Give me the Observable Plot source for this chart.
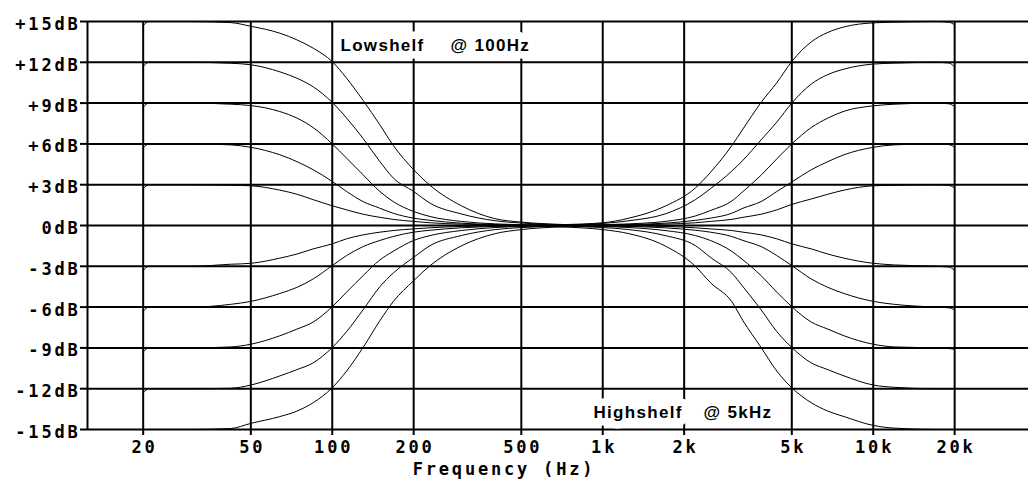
<!DOCTYPE html>
<html>
<head>
<meta charset="utf-8">
<script src="https://cdn.jsdelivr.net/npm/d3@7"></script>
<script src="https://cdn.jsdelivr.net/npm/@observablehq/plot@0.6"></script>
<style>
  body { margin: 0; background: #fff; }
</style>
</head>
<body>
<div id="chart"></div>
<script>
// ---- tick labels ----
const xTicks = [20, 50, 100, 200, 500, 1000, 2000, 5000, 10000, 20000];
const xTickLabels = ["20", "50", "100", "200", "500", "1k", "2k", "5k", "10k", "20k"];
const yTicks = [-15, -12, -9, -6, -3, 0, 3, 6, 9, 12, 15];
const yTickLabels = ["-15dB", "-12dB", "-9dB", "-6dB", "-3dB", "0dB", "+3dB", "+6dB", "+9dB", "+12dB", "+15dB"];
const annotationTexts = ["Lowshelf", "@ 100Hz", "Highshelf", "@ 5kHz"];

// ---- low shelf @ 100 Hz (dB values) ----
const lowFreqs = [20, 21, 30, 42, 50, 64, 74, 85, 100, 113, 130, 150, 168, 200, 230, 300, 400, 500, 700, 1000, 20000];
const lowP15 = [14.7, 15, 15, 14.92, 14.65, 14.14, 13.65, 13.04, 12.05, 10.83, 9.2, 7.4, 5.9, 4.1, 2.95, 1.45, 0.5, 0.25, 0.08, 0, 0];
const lowP12 = [11.7, 12, 12, 11.93, 11.82, 11.3, 10.83, 10.2, 9.05, 7.9, 6.4, 4.7, 3.5, 2.5, 1.64, 0.85, 0.35, 0.18, 0.05, 0, 0];
const lowP9  = [8.7, 9, 9, 8.92, 8.82, 8.38, 7.9, 7.2, 6.0, 4.95, 3.73, 2.5, 1.76, 1.03, 0.66, 0.3, 0.12, 0.06, 0.02, 0, 0];
const lowP6  = [5.7, 6, 6, 5.93, 5.75, 5.2, 4.7, 4.1, 3.24, 2.5, 1.76, 1.27, 0.9, 0.54, 0.38, 0.17, 0.07, 0.03, 0.01, 0, 0];
const lowP3  = [2.7, 3, 3, 2.96, 2.92, 2.6, 2.3, 1.9, 1.45, 1.15, 0.83, 0.6, 0.45, 0.3, 0.2, 0.1, 0.04, 0.02, 0, 0, 0];
const lowM3  = [-3.3, -3, -3, -2.85, -2.78, -2.4, -2.1, -1.72, -1.35, -0.98, -0.69, -0.49, -0.37, -0.25, -0.17, -0.07, -0.03, -0.01, 0, 0, 0];
const lowM6  = [-6.3, -6, -6, -5.8, -5.58, -5.0, -4.55, -3.93, -2.95, -2.21, -1.55, -1.1, -0.81, -0.49, -0.35, -0.17, -0.07, -0.03, -0.01, 0, 0];
const lowM9  = [-9.3, -9, -9, -8.93, -8.73, -8.11, -7.62, -7.1, -5.97, -4.9, -3.69, -2.53, -1.9, -1.1, -0.74, -0.37, -0.15, -0.07, -0.02, 0, 0];
const lowM12 = [-12.3, -12, -12, -11.97, -11.73, -11.06, -10.6, -10.1, -8.97, -7.8, -6.2, -4.5, -3.5, -2.34, -1.48, -0.74, -0.3, -0.15, -0.05, 0, 0];
const lowM15 = [-15.3, -15, -15, -14.93, -14.55, -14.05, -13.65, -13.03, -11.93, -10.7, -8.97, -7.0, -5.6, -4.06, -2.95, -1.5, -0.6, -0.3, -0.1, 0, 0];

// ---- high shelf @ 5 kHz (dB values) ----
const highFreqs = [20, 500, 700, 1000, 1250, 1700, 2200, 2500, 3000, 3300, 3850, 4400, 5000, 5900, 6800, 7800, 10000, 12000, 17000, 19000, 20000];
const highP15 = [0, 0, 0.06, 0.2, 0.54, 1.42, 2.76, 3.9, 5.87, 7.1, 9.05, 10.5, 12.06, 13.5, 14.2, 14.6, 14.9, 14.95, 15, 14.95, 14.75];
const highP12 = [0, 0, 0.04, 0.15, 0.35, 0.85, 1.9, 2.7, 4.0, 4.8, 6.3, 7.6, 9.0, 10.4, 11.1, 11.5, 11.87, 11.94, 12, 11.95, 11.65];
const highP9  = [0, 0, 0.02, 0.06, 0.12, 0.3, 0.7, 1.1, 1.8, 2.5, 3.7, 4.9, 6.0, 7.2, 7.9, 8.4, 8.8, 8.92, 9, 8.95, 8.75];
const highP6  = [0, 0, 0.01, 0.03, 0.07, 0.17, 0.38, 0.54, 0.9, 1.27, 1.76, 2.5, 3.2, 4.1, 4.7, 5.2, 5.75, 5.93, 6, 5.95, 5.75];
const highP3  = [0, 0, 0, 0.02, 0.04, 0.1, 0.2, 0.3, 0.45, 0.6, 0.83, 1.15, 1.55, 1.95, 2.3, 2.6, 2.92, 2.96, 3, 2.95, 2.75];
const highM3  = [0, 0, 0, -0.01, -0.03, -0.07, -0.17, -0.25, -0.37, -0.49, -0.69, -0.98, -1.35, -1.72, -2.1, -2.4, -2.78, -2.9, -3, -3.05, -3.3];
const highM6  = [0, 0, -0.01, -0.03, -0.07, -0.17, -0.35, -0.49, -0.81, -1.1, -1.55, -2.21, -2.95, -3.93, -4.55, -5.0, -5.58, -5.8, -6, -6.05, -6.2];
const highM9  = [0, 0, -0.02, -0.07, -0.15, -0.37, -0.74, -1.1, -1.9, -2.53, -3.69, -4.9, -5.97, -7.1, -7.62, -8.11, -8.73, -8.93, -9, -9.05, -9.1];
const highM12 = [0, 0, -0.05, -0.15, -0.3, -0.74, -1.48, -2.34, -3.5, -4.5, -6.2, -7.8, -8.97, -10.1, -10.6, -11.06, -11.73, -11.9, -12, -12, -12];
const highM15 = [0, 0, -0.1, -0.3, -0.6, -1.5, -3.0, -4.2, -5.6, -7.0, -8.97, -10.7, -11.93, -13.03, -13.65, -14.05, -14.7, -14.9, -15, -15, -15];

const xDomain = [12.45, 37500];
const yDomain = [-15, 15];

// ---- build a table for Plot ----
const curves = [
  ["low+15", lowFreqs, lowP15], ["low+12", lowFreqs, lowP12], ["low+9", lowFreqs, lowP9],
  ["low+6", lowFreqs, lowP6], ["low+3", lowFreqs, lowP3], ["low-3", lowFreqs, lowM3],
  ["low-6", lowFreqs, lowM6], ["low-9", lowFreqs, lowM9], ["low-12", lowFreqs, lowM12],
  ["low-15", lowFreqs, lowM15],
  ["high+15", highFreqs, highP15], ["high+12", highFreqs, highP12], ["high+9", highFreqs, highP9],
  ["high+6", highFreqs, highP6], ["high+3", highFreqs, highP3], ["high-3", highFreqs, highM3],
  ["high-6", highFreqs, highM6], ["high-9", highFreqs, highM9], ["high-12", highFreqs, highM12],
  ["high-15", highFreqs, highM15]
];
const rows = curves.flatMap(([id, fs, vs]) => fs.map((f, i) => ({id, f, db: vs[i]})));

const xLabel = new Map(xTicks.map((t, i) => [t, xTickLabels[i]]));
const yLabel = new Map(yTicks.map((t, i) => [t, yTickLabels[i]]));

const annFont = {fontFamily: "'Liberation Sans', Arial, sans-serif", fontSize: 17, fontWeight: "bold",
  fill: "black", stroke: "white", strokeWidth: 15, strokeLinejoin: "round",
  textAnchor: "start", lineAnchor: "bottom"};

const chart = Plot.plot({
  width: 1028,
  height: 485,
  marginLeft: 87,
  marginRight: 0,
  marginTop: 21,
  marginBottom: 56,
  x: {type: "log", domain: xDomain},
  y: {domain: yDomain},
  style: {fontFamily: "'DejaVu Sans Mono', monospace", fontSize: "17px", fontWeight: "bold",
          background: "white", color: "black", overflow: "visible"},
  marks: [
    Plot.ruleY(yTicks, {stroke: "black", strokeWidth: 2}),
    Plot.ruleX(xTicks, {stroke: "black", strokeWidth: 2}),
    Plot.ruleX([xDomain[0]], {stroke: "black", strokeWidth: 2}),
    Plot.line(rows, {x: "f", y: "db", z: "id", curve: "monotone-x", stroke: "black", strokeWidth: 1, clip: true}),
    Plot.axisX({ticks: xTicks, tickSize: 6, strokeWidth: 2, fill: "none", label: null}),
    Plot.text(xTicks, {x: d => d, text: d => xLabel.get(d), frameAnchor: "bottom", lineAnchor: "top",
                       textAnchor: "middle", dy: 11.5, dx: 1.4}),
    Plot.axisY({ticks: yTicks, tickSize: 7, strokeWidth: 2, fill: "none", label: null}),
    Plot.axisY({ticks: yTicks, tickFormat: d => yLabel.get(d), tickSize: 0, tickPadding: 7,
                dy: 3, label: null}),
    Plot.text(["Frequency (Hz)"], {frameAnchor: "bottom", dx: -54, dy: 45, lineAnchor: "bottom",
                                   textAnchor: "middle"}),
    Plot.text(["Lowshelf"], {...annFont, frameAnchor: "top-left", dx: 253, dy: 29}),
    Plot.text(["@ 100Hz"], {...annFont, frameAnchor: "top-left", dx: 363, dy: 29}),
    Plot.text(["Highshelf"], {...annFont, frameAnchor: "bottom-left", dx: 506, dy: -11.5}),
    Plot.text(["@ 5kHz"], {...annFont, frameAnchor: "bottom-left", dx: 616, dy: -11.5})
  ]
});
// letter spacing: wide bitmap-like spacing for axis text, tighter for the annotations
d3.select(chart).selectAll("text").each(function () {
  const t = this.textContent;
  d3.select(this).style("letter-spacing", annotationTexts.includes(t) ? "1.3px" : "2.8px");
});
document.getElementById("chart").appendChild(chart);
</script>
</body>
</html>
